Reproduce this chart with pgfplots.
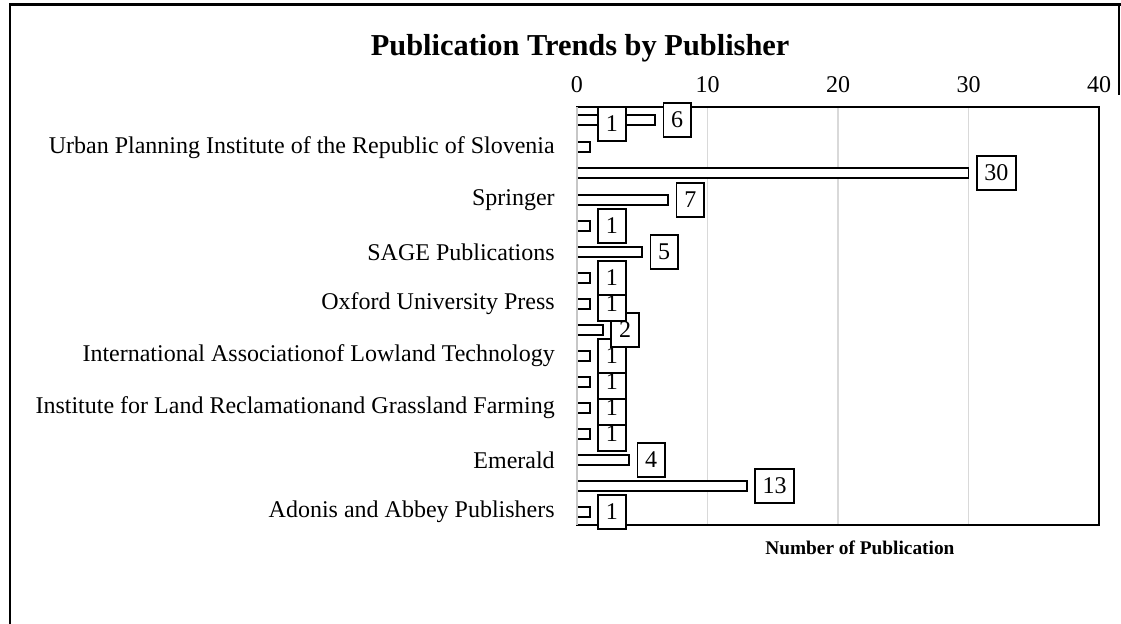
\documentclass[border=0pt]{standalone}
\usepackage{fontspec}
\setmainfont{Liberation Serif}
\usepackage{pgfplots}
\pgfplotsset{compat=1.18}
\definecolor{gridgray}{HTML}{D9D9D9}
\begin{document}
\begin{tikzpicture}
\useasboundingbox (0,0) rectangle (840.75pt,-468pt);
\begin{scope}[x=0.75pt,y=-0.75pt]
\draw[black, line width=1.8pt] (10,624) -- (10,4.5) -- (1121,4.5);
\draw[black, line width=1.2pt] (1119,4.5) -- (1119,95);
\end{scope}
\begin{axis}[
  at={(432.75pt,-393.75pt)}, anchor=south west,
  scale only axis, width=391.5pt, height=313.5pt,
  xmin=0, xmax=40, ymin=-525, ymax=-107,
  clip=false,
  /pgf/number format/assume math mode=true,
  xtick={0,10,20,30,40},
  xticklabel pos=right,
  xticklabel style={font=\fontsize{18}{20}\selectfont, inner sep=0pt, anchor=south, yshift=10.5pt},
  ytick={-512,-460,-408,-356,-304,-252,-200,-148},
  yticklabels={Adonis and Abbey Publishers, Emerald, Institute for Land Reclamationand Grassland Farming, International Associationof Lowland Technology\ , Oxford University Press, SAGE Publications, Springer, Urban Planning Institute of the Republic of Slovenia},
  yticklabel style={font=\fontsize{18}{20}\selectfont, inner sep=0pt, anchor=east, xshift=-16.5pt},
  major tick length=0pt,
  xmajorgrids, grid style={gridgray, line width=1pt},
  axis line style={black, line width=1.4pt},
  xlabel={Number of Publication},
  xlabel style={font=\bfseries\fontsize{14.5}{16}\selectfont, at={(rel axis cs:0.542,0)}, anchor=north, inner sep=0pt, yshift=-12pt},
  title={Publication Trends by Publisher},
  title style={font=\bfseries\fontsize{22.8}{24}\selectfont, at={(rel axis cs:0.006,1)}, anchor=base, inner sep=0pt, yshift=32.5pt},
  lbl/.style={nodes near coords={\pgfmathprintnumber{\pgfplotspointmeta}}, point meta=x,
    every node near coord/.append style={draw=black, line width=1.3pt, fill=white, text=black,
      inner xsep=5.8pt, inner ysep=6.8pt, font=\fontsize{18}{20}\selectfont, anchor=west, xshift=5.5pt}},
]
% Urban Planning bar (its value label sits slightly higher, see below)
\addplot[xbar, bar shift=0pt, bar width=7pt, draw=black, fill=white, line width=1.3pt]
  coordinates {(1,-147)};
% bars with labels, from bottom to top
\addplot[xbar, bar shift=0pt, bar width=7pt, draw=black, fill=white, line width=1.3pt, lbl]
  coordinates {
  (1,-512) (13,-486) (4,-460) (1,-434) (1,-408) (1,-382) (1,-356) (2,-330)
  (1,-304) (1,-278) (5,-252) (1,-226) (7,-200) (30,-173) (6,-120)
  };
% value label of the Urban Planning bar
\addplot[xbar, bar shift=0pt, bar width=7pt, draw=none, fill=none, lbl]
  coordinates {(1,-124)};
\draw[gridgray!80!gray, line width=1.2pt] (rel axis cs:0,0) -- (rel axis cs:0,1);
\end{axis}
\end{tikzpicture}
\end{document}
